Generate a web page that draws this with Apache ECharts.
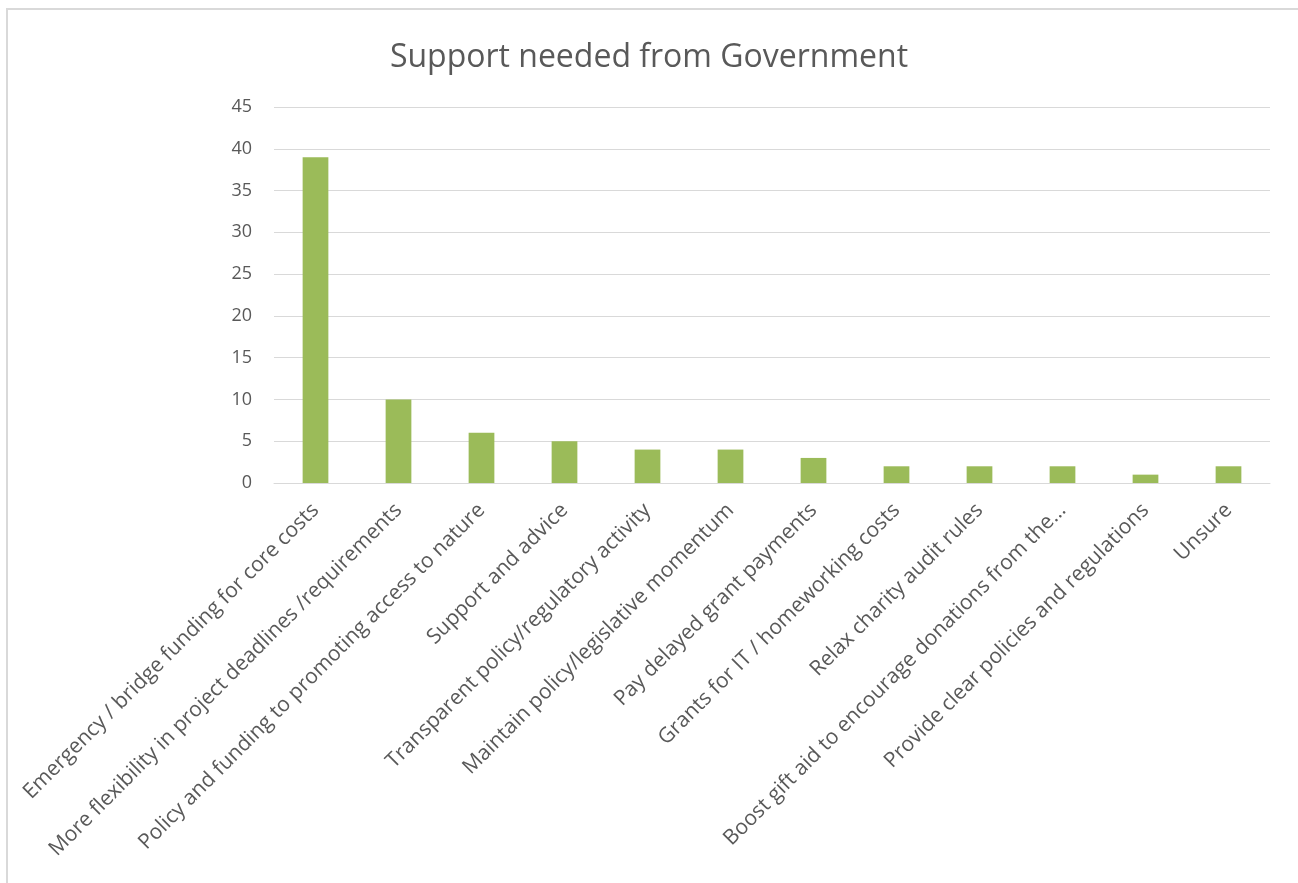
<!DOCTYPE html>
<html>
<head>
<meta charset="utf-8">
<script src="https://cdn.jsdelivr.net/npm/echarts@6/dist/echarts.min.js"></script>
<style>
html,body{margin:0;padding:0;background:#fff;}
#frame{position:absolute;left:6px;top:8px;width:1292px;height:875px;border-left:2px solid #d9d9d9;border-top:2px solid #d9d9d9;box-sizing:border-box;}
#chart{position:absolute;left:0;top:0;width:1298px;height:883px;}
</style>
</head>
<body>
<div id="frame"></div>
<div id="chart"></div>
<script>
const titleText = 'Support needed from Government';
const categories = [
  'Emergency / bridge funding for core costs',
  'More flexibility in project deadlines /requirements',
  'Policy and funding to promoting access to nature',
  'Support and advice',
  'Transparent policy/regulatory activity',
  'Maintain policy/legislative momentum',
  'Pay delayed grant payments',
  'Grants for IT / homeworking costs',
  'Relax charity audit rules',
  'Boost gift aid to encourage donations from the…',
  'Provide clear policies and regulations',
  'Unsure'
];
const values = [39, 10, 6, 5, 4, 4, 3, 2, 2, 2, 1, 2];
const yTicks = {min: 0, max: 45, interval: 5};

const chart = echarts.init(document.getElementById('chart'));
chart.setOption({
  animation: false,
  textStyle: {fontFamily: 'Open Sans'},
  title: {
    text: titleText,
    left: 'center',
    top: 37,
    textStyle: {fontFamily: 'Open Sans', fontSize: 32, fontWeight: 'normal', color: '#595959'}
  },
  grid: {left: 274, right: 28, top: 107, bottom: 400},
  xAxis: {
    type: 'category',
    data: categories,
    axisLine: {lineStyle: {color: '#d9d9d9', width: 1}},
    axisTick: {show: false},
    axisLabel: {rotate: 45, interval: 0, fontSize: 21, color: '#595959', margin: 24, fontFamily: 'Open Sans'}
  },
  yAxis: {
    type: 'value',
    min: yTicks.min, max: yTicks.max, interval: yTicks.interval,
    axisLine: {show: false},
    axisTick: {show: false},
    splitLine: {lineStyle: {color: '#d9d9d9', width: 1}},
    axisLabel: {fontSize: 18, color: '#595959', margin: 22, fontFamily: 'Open Sans'}
  },
  series: [{
    type: 'bar',
    data: values,
    barWidth: '31%',
    itemStyle: {color: '#9bbb59'}
  }]
});
</script>
</body>
</html>
